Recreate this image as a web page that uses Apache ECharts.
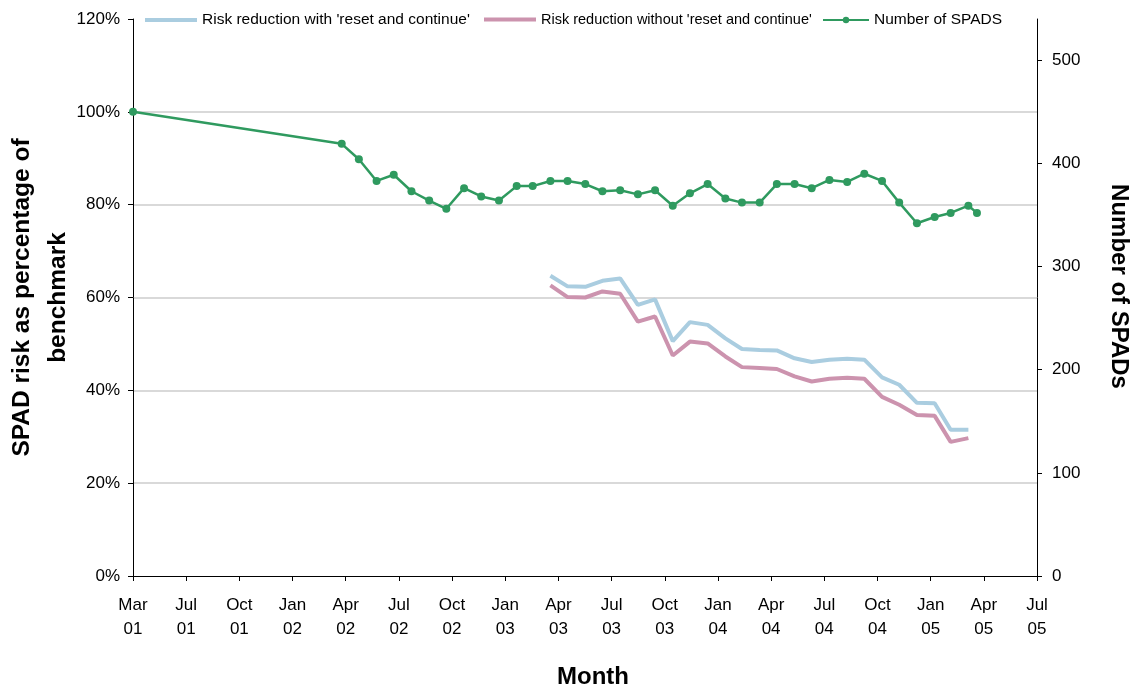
<!DOCTYPE html>
<html>
<head>
<meta charset="utf-8">
<script src="https://cdn.jsdelivr.net/npm/echarts@6/dist/echarts.min.js"></script>
<style>
html,body{margin:0;padding:0;background:#fff;}
#chart{width:1134px;height:685px;}
</style>
</head>
<body>
<div id="chart"></div>
<script>
// ---- data ----
var xTickLabels = ['Mar\n01','Jul\n01','Oct\n01','Jan\n02','Apr\n02','Jul\n02','Oct\n02','Jan\n03','Apr\n03','Jul\n03','Oct\n03','Jan\n04','Apr\n04','Jul\n04','Oct\n04','Jan\n05','Apr\n05','Jul\n05'];

var spadDates = ['2001-03-31',
  '2002-03-31','2002-04-30','2002-05-31','2002-06-30','2002-07-31','2002-08-31','2002-09-30','2002-10-31','2002-11-30','2002-12-31',
  '2003-01-31','2003-02-28','2003-03-31','2003-04-30','2003-05-31','2003-06-30','2003-07-31','2003-08-31','2003-09-30','2003-10-31','2003-11-30','2003-12-31',
  '2004-01-31','2004-02-29','2004-03-31','2004-04-30','2004-05-31','2004-06-30','2004-07-31','2004-08-31','2004-09-30','2004-10-31','2004-11-30','2004-12-31',
  '2005-01-31','2005-02-28','2005-03-31','2005-04-15'];
var spadCounts = [450,
  419,404,383,389,373,364,356,376,368,364,
  378,378,383,383,380,373,374,370,374,359,371,380,
  366,362,362,380,380,376,384,382,390,383,362,342,
  348,352,359,352];

var riskDates = ['2003-03-31','2003-04-30','2003-05-31','2003-06-30','2003-07-31','2003-08-31','2003-09-30','2003-10-31','2003-11-30','2003-12-31',
  '2004-01-31','2004-02-29','2004-03-31','2004-04-30','2004-05-31','2004-06-30','2004-07-31','2004-08-31','2004-09-30','2004-10-31','2004-11-30','2004-12-31',
  '2005-01-31','2005-02-28','2005-03-31'];
var riskWithReset = [64.7,62.4,62.3,63.6,64.1,58.4,59.6,50.6,54.7,54.1,
  51.2,48.9,48.7,48.6,46.9,46.1,46.6,46.8,46.6,42.8,41.2,37.3,
  37.2,31.5,31.5];
var riskWithoutReset = [62.6,60.1,60.0,61.3,60.8,54.8,55.9,47.5,50.5,50.1,
  47.3,45.0,44.8,44.6,43.0,41.9,42.5,42.7,42.5,38.6,36.9,34.7,
  34.5,28.9,29.7];

var rightTicks = [0,100,200,300,400,500];

var nameWith = 'Risk reduction with \'reset and continue\'';
var nameWithout = 'Risk reduction without \'reset and continue\'';
var nameSpads = 'Number of SPADS';

// ---- helpers ----
var ORIGIN = Date.UTC(2001,2,31);
var TICK_DAYS = 93;
function dayOf(s){ var p = s.split('-'); return (Date.UTC(+p[0], +p[1]-1, +p[2]) - ORIGIN)/86400000; }
function pairs(dates, vals){ return dates.map(function(d,i){ return [dayOf(d), vals[i]]; }); }

var FONT = "'Liberation Sans', Arial, sans-serif";
var BAR_ICON = 'path://M0,0L52,0L52,4L0,4Z';
function legendAt(left, item, width, fs){
  return {left:left, top:12, padding:0, itemWidth:width, itemHeight:8, symbolKeepAspect:true,
    textStyle:{fontFamily:FONT, fontSize:fs, color:'#000'}, data:[item]};
}
var chart = echarts.init(document.getElementById('chart'), null, {renderer:'canvas'});
chart.setOption({
  animation:false,
  backgroundColor:'#ffffff',
  textStyle:{fontFamily:FONT},
  grid:{left:133, right:97, top:19, bottom:109, containLabel:false, outerBoundsMode:'none'},
  legend:[
    legendAt(145, {name:nameWith, icon:BAR_ICON}, 52, 15.5),
    legendAt(484, {name:nameWithout, icon:BAR_ICON}, 52, 14.5),
    legendAt(822, {name:nameSpads}, 46, 15.5)
  ],
  xAxis:{
    type:'value', min:0, max:TICK_DAYS*(xTickLabels.length-1), interval:TICK_DAYS,
    axisLine:{lineStyle:{color:'#000', width:1}},
    axisTick:{show:true, inside:false, length:5, lineStyle:{color:'#000'}},
    axisLabel:{fontFamily:FONT, fontSize:17, color:'#000', margin:17, lineHeight:24,
      formatter:function(v){ return xTickLabels[Math.round(v/TICK_DAYS)] || ''; }},
    splitLine:{show:false},
    name:'Month', nameLocation:'middle', nameGap:89, nameMoveOverlap:false,
    nameTextStyle:{fontFamily:FONT, fontSize:24, fontWeight:'bold', color:'#000', padding:[0,0,0,16]}
  },
  yAxis:[{
    type:'value', min:0, max:120, interval:20, position:'left',
    axisLine:{show:true, lineStyle:{color:'#000', width:1}},
    axisTick:{show:true, length:5, lineStyle:{color:'#000'}},
    axisLabel:{fontFamily:FONT, fontSize:17, color:'#000', margin:13, formatter:'{value}%'},
    splitLine:{show:true, showMinLine:false, showMaxLine:false, lineStyle:{color:'#d9d9d9', width:2}},
    name:'SPAD risk as percentage of\nbenchmark', nameLocation:'middle', nameGap:57, nameRotate:90, nameMoveOverlap:false,
    nameTextStyle:{fontFamily:FONT, fontSize:24.5, fontWeight:'bold', color:'#000', lineHeight:36}
  },{
    type:'value', min:0, max:540, interval:100, position:'right',
    axisLine:{show:true, lineStyle:{color:'#000', width:1}},
    axisTick:{show:true, length:5, lineStyle:{color:'#000'}, customValues:rightTicks},
    axisLabel:{fontFamily:FONT, fontSize:17, color:'#000', margin:15, customValues:rightTicks},
    splitLine:{show:false},
    name:'Number of SPADs', nameLocation:'middle', nameGap:70, nameRotate:-90,
    nameTextStyle:{fontFamily:FONT, fontSize:24, fontWeight:'bold', color:'#000', padding:[0,22,0,0]}
  }],
  series:[{
    name:nameWith, type:'line', yAxisIndex:0,
    data:pairs(riskDates, riskWithReset), showSymbol:false, symbol:'none',
    lineStyle:{color:'#aacde0', width:4}, itemStyle:{color:'#aacde0'}, z:2
  },{
    name:nameWithout, type:'line', yAxisIndex:0,
    data:pairs(riskDates, riskWithoutReset), showSymbol:false, symbol:'none',
    lineStyle:{color:'#cc93ae', width:4}, itemStyle:{color:'#cc93ae'}, z:2
  },{
    name:nameSpads, type:'line', yAxisIndex:1,
    data:pairs(spadDates, spadCounts), symbol:'circle', symbolSize:8, clip:false,
    lineStyle:{color:'#2f9a5f', width:2.5}, itemStyle:{color:'#2f9a5f'}, z:3
  }]
});
</script>
</body>
</html>
